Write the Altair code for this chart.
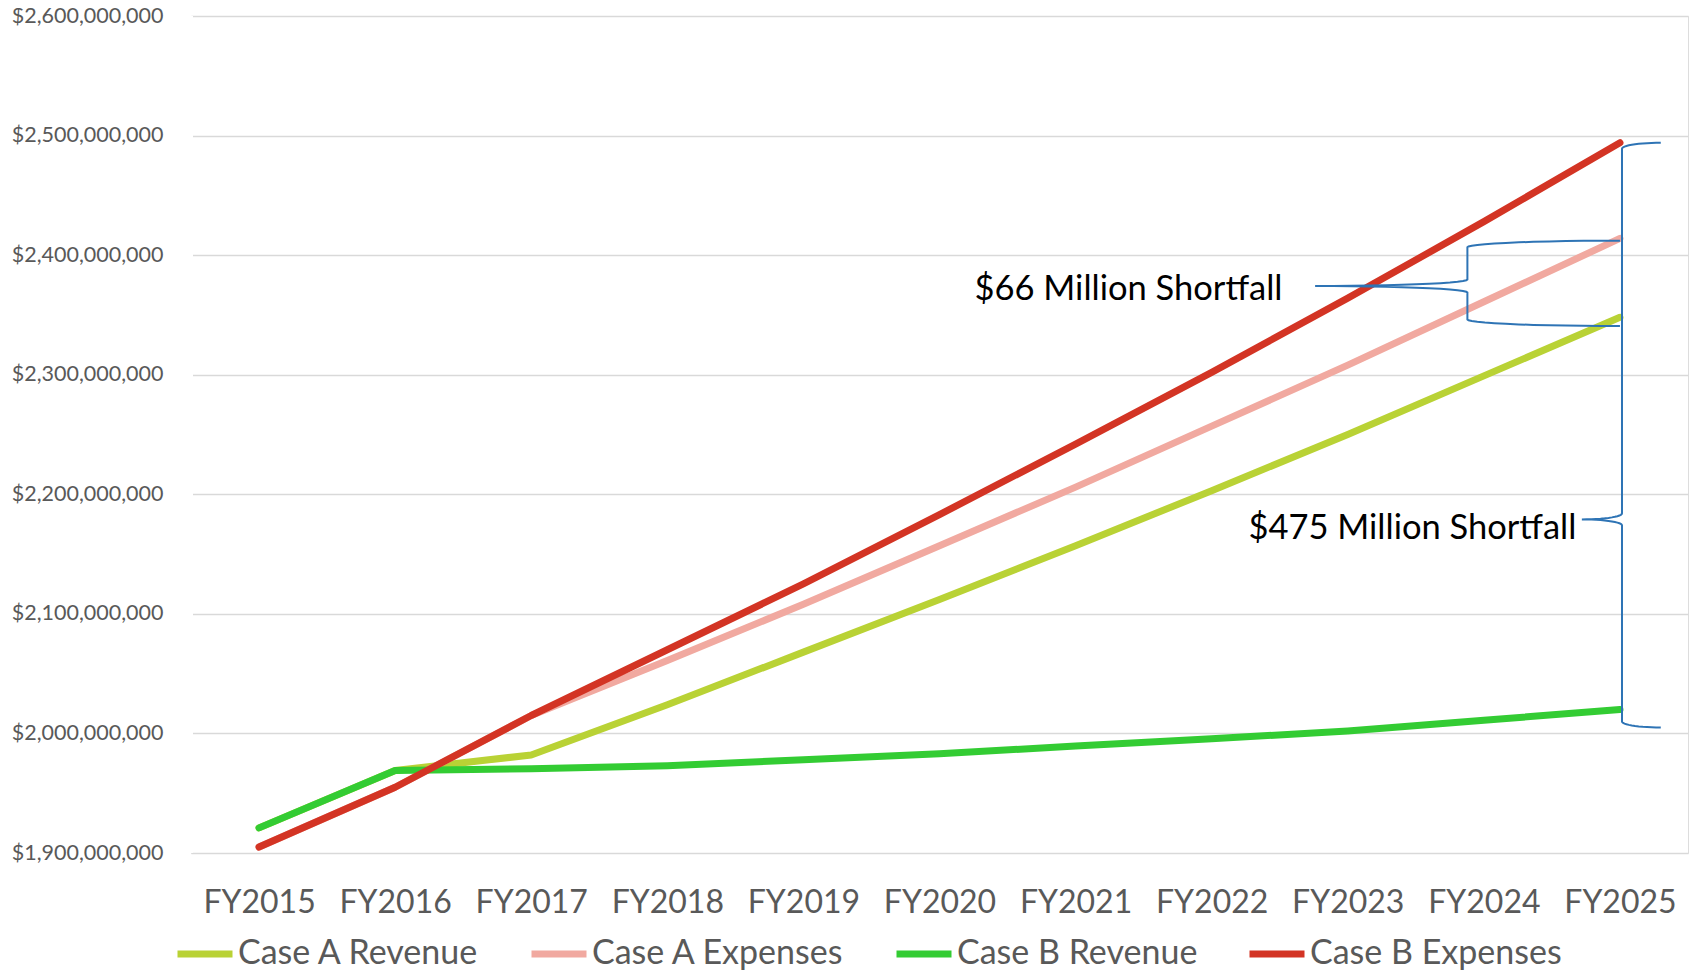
import json
import numpy as np
import pandas as pd
import altair as alt

# ---------------- data (values in millions of dollars) ----------------
years = ["FY2015", "FY2016", "FY2017", "FY2018", "FY2019", "FY2020",
         "FY2021", "FY2022", "FY2023", "FY2024", "FY2025"]
series_names = ["Case A Revenue", "Case A Expenses", "Case B Revenue", "Case B Expenses"]
series_colors = ["#B9D235", "#F1A9A0", "#33CC33", "#D33424"]

case_a_revenue = [1921, 1969, 1982, 2024, 2068, 2112, 2157, 2203, 2250, 2299, 2348]
case_a_expenses = [1905, 1955, 2015, 2061, 2108, 2157, 2206, 2257, 2308, 2361, 2414]
case_b_revenue = [1921, 1969, 1970.5, 1973, 1978, 1983, 1989.5, 1995.5, 2002, 2011, 2020]
case_b_expenses = [1905, 1955, 2015, 2070, 2125, 2183, 2242, 2302, 2364, 2428, 2494]

y_ticks = [1900, 2000, 2100, 2200, 2300, 2400, 2500, 2600]

annotations = ["$66 Million Shortfall", "$475 Million Shortfall"]
annotation_x = [7.52, 9.68]          # position on the year axis (index)
annotation_y = [2362.5, 2162.7]      # position on the value axis (millions)

# brace anchors: (vertical x, tip x, point x, top value, bottom value, middle value, curl)
braces = [
    (8.879, 10.0, 7.76, 2412.1, 2340.7, 2374.2, 5.5),
    (10.015, 10.30, 9.72, 2494.0, 2005.0, 2179.0, 5.0),
]

M = 1e6
FONT = "Lato"

rows = []
for name, vals in zip(series_names, [case_a_revenue, case_a_expenses, case_b_revenue, case_b_expenses]):
    for i, v in enumerate(vals):
        rows.append({"series": name, "idx": i, "year": years[i], "value": v * M})
df = pd.DataFrame(rows)


def brace_points(xv, x_tip, x_pt, y_top, y_bot, y_mid, ry, n=14):
    th = np.linspace(0, np.pi / 2, n)
    rx_t = x_tip - xv
    rx_m = xv - x_pt
    pts = []
    for t in th:
        pts.append((x_tip - rx_t * np.sin(t), y_top - ry + ry * np.cos(t)))
    for t in th:
        pts.append((x_pt + rx_m * np.cos(t), y_mid + ry - ry * np.sin(t)))
    for t in th:
        pts.append((x_pt + rx_m * np.sin(t), y_mid - ry + ry * np.cos(t)))
    for t in th:
        pts.append((x_tip - rx_t * np.cos(t), y_bot + ry - ry * np.sin(t)))
    return pts


brows = []
for b, spec in enumerate(braces):
    for k, (bx, by) in enumerate(brace_points(*spec)):
        brows.append({"brace": b, "k": k, "idx": bx, "value": by * M})
bdf = pd.DataFrame(brows)

adf = pd.DataFrame({"text": annotations, "idx": annotation_x,
                    "value": [v * M for v in annotation_y]})

x_scale = alt.Scale(domain=[-0.5, len(years) - 0.5], nice=False, zero=False)
y_scale = alt.Scale(domain=[y_ticks[0] * M, y_ticks[-1] * M], nice=False, zero=False)

x_axis = alt.Axis(values=list(range(len(years))),
                  labelExpr=json.dumps(years) + "[datum.value]",
                  grid=False, domain=False, ticks=False,
                  labelFontSize=32, labelColor="#595959", labelFont=FONT,
                  labelPadding=34, title=None, zindex=0)
y_axis = alt.Axis(values=[t * M for t in y_ticks], format="$,.0f",
                  grid=True, gridColor="#D9D9D9", gridWidth=1.6,
                  domain=False, domainOpacity=0, ticks=False,
                  labelFontSize=21.5, labelColor="#595959", labelFont=FONT,
                  labelPadding=28, title=None, zindex=0)

X = alt.X("idx:Q", scale=x_scale, axis=x_axis)
Y = alt.Y("value:Q", scale=y_scale, axis=y_axis)

# thin white edge so that no stray vertical border shows at the plot's left side
edge = alt.Chart(df).mark_rule(color="white", strokeWidth=3).encode(
    x=alt.value(0), y=alt.value(0), y2=alt.value(837)
)

lines = alt.Chart(df).mark_line(strokeWidth=7, strokeCap="round", strokeJoin="round").encode(
    x=X, y=Y,
    color=alt.Color("series:N",
                    scale=alt.Scale(domain=series_names, range=series_colors),
                    legend=alt.Legend(orient="none", legendX=-17, legendY=907,
                                      direction="horizontal", title=None,
                                      symbolType="stroke", symbolStrokeWidth=7,
                                      symbolSize=3025, labelFontSize=34,
                                      labelColor="#595959", labelFont=FONT,
                                      columnPadding=37, labelOffset=2,
                                      labelLimit=400)),
)

brace_layer = alt.Chart(bdf).mark_line(color="#2E74B5", strokeWidth=2).encode(
    x=X, y=Y,
    detail="brace:N",
    order="k:Q",
)

text_layer = alt.Chart(adf).mark_text(align="right", baseline="alphabetic",
                                      fontSize=34.5, font=FONT, color="#000000").encode(
    x=X, y=Y,
    text="text:N",
)

chart = (
    alt.layer(lines, edge, brace_layer, text_layer)
    .properties(
        width=1497, height=837,
        autosize=alt.AutoSizeParams(type="none"),
        padding={"left": 183, "top": 8, "right": 2, "bottom": 121},
    )
    .configure_view(strokeWidth=0, stroke="transparent", strokeOpacity=0)
    .configure_axis(domain=False, ticks=False, domainOpacity=0, domainColor="transparent")
    .configure_axisX(grid=False, domain=False, gridOpacity=0, gridColor="transparent")
    .configure_axisY(domain=False, domainOpacity=0)
    .configure(font=FONT)
)

chart.save("out.html", embed_options={"renderer": "svg", "actions": False})
